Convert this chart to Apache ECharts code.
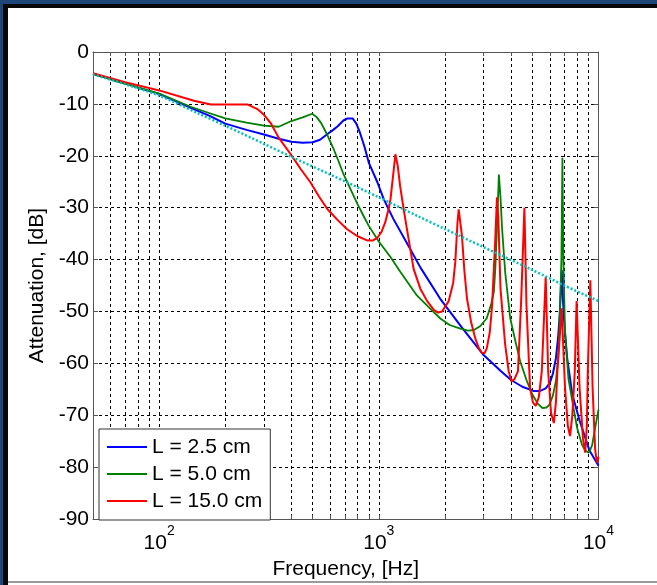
<!DOCTYPE html>
<html>
<head>
<meta charset="utf-8">
<script src="https://cdn.jsdelivr.net/npm/echarts@6/dist/echarts.min.js"></script>
<style>
html,body{margin:0;padding:0;background:#fff;}
#c{width:657px;height:585px;}
</style>
</head>
<body>
<div id="c"></div>
<script>
// ---- data ----
const seriesNames = ['L = 2.5 cm', 'L = 5.0 cm', 'L = 15.0 cm'];
const xTickLabelExponents = [2, 3, 4];
const xGridFreqs = [60,70,80,90,100,200,300,400,500,600,700,800,900,1000,2000,3000,4000,5000,6000,7000,8000,9000,10000];

const blueF = [50,70,100,140,170,200,250,300,350,400,450,500,540,580,620,650,690,720,760,790,820,860,900,985,1054,1166,1350,1545,1900,2400,3000,3300,3600,4000,4500,5060,5430,5750,6000,6200,6400,6550,6650,6720,6800,6880,6950,7200,7600,8200,9100,10000];
const blueDb = [-4.2,-6.1,-8.1,-10.8,-12.3,-13.8,-15.0,-15.9,-16.7,-17.3,-17.5,-17.4,-16.9,-15.9,-15.0,-14.3,-13.2,-12.8,-12.8,-13.8,-15.5,-18.2,-21.3,-25.1,-28.4,-32.2,-37.0,-41.5,-47.5,-53.2,-58.4,-60.0,-61.5,-63.2,-64.5,-65.3,-65.3,-64.8,-63.8,-62.0,-59.0,-55.0,-51.0,-47.0,-42.0,-47.0,-51.0,-59.0,-66.0,-71.0,-76.8,-79.7];

const greenF = [50,70,100,140,170,200,250,300,350,400,450,497,520,545,580,620,655,690,745,800,850,900,1000,1130,1250,1490,1700,1900,2100,2350,2550,2700,2900,3100,3250,3340,3390,3450,3520,3580,3640,3760,3965,4200,4400,4700,5000,5300,5560,5800,5970,6200,6400,6550,6640,6780,6850,6920,7040,7300,7650,8000,8400,8700,9050,9350,9600,10000];
const greenDb = [-4.2,-6.1,-8.0,-10.6,-11.8,-12.8,-13.6,-14.2,-14.4,-13.3,-12.6,-11.9,-12.5,-13.6,-15.8,-18.5,-21.0,-23.5,-26.5,-29.3,-31.5,-33.5,-36.5,-39.5,-42.3,-46.9,-49.3,-51.3,-52.6,-53.3,-53.7,-53.6,-52.8,-51.3,-48.5,-46.2,-41.8,-34.0,-23.6,-28.0,-34.0,-42.4,-51.3,-56.0,-59.6,-63.2,-66.0,-67.8,-68.6,-68.5,-68.0,-66.2,-63.4,-59.0,-53.3,-40.0,-20.4,-40.0,-54.0,-63.0,-68.0,-72.5,-75.6,-76.8,-77.2,-75.8,-73.0,-68.9];

const redF = [50,70,100,144,172,200,252,280,300,322,350,397,440,488,535,584,650,715,800,885,940,985,1030,1070,1100,1130,1160,1190,1220,1250,1300,1350,1440,1545,1660,1780,1860,1940,2080,2180,2230,2280,2310,2390,2450,2520,2630,2750,2850,2950,3030,3100,3200,3280,3390,3450,3500,3580,3760,3900,4020,4150,4300,4450,4600,4700,4880,5030,5180,5350,5520,5750,5900,6080,6260,6400,6500,6800,7040,7250,7420,7600,7800,7950,8200,8500,8700,8850,8940,9180,9400,9650,9840,10000];
const redDb = [-4.1,-5.8,-7.4,-9.4,-10.1,-10.1,-10.1,-11.0,-12.1,-13.7,-16.5,-19.7,-22.5,-25.1,-27.9,-30.3,-32.4,-34.1,-35.5,-36.3,-36.3,-35.8,-34.6,-32.8,-30.8,-28.4,-24.0,-19.7,-22.0,-25.8,-30.5,-34.7,-41.8,-45.6,-48.0,-49.7,-50.2,-50.0,-48.0,-44.5,-40.4,-33.0,-30.3,-35.4,-42.0,-47.5,-52.0,-55.2,-57.0,-58.0,-58.0,-57.1,-54.0,-48.8,-36.0,-28.0,-32.0,-45.6,-56.4,-61.5,-63.5,-63.0,-61.5,-47.5,-30.0,-48.8,-64.7,-67.5,-68.2,-66.5,-61.5,-43.3,-61.5,-69.5,-71.5,-67.5,-61.5,-49.4,-64.7,-72.0,-74.0,-70.0,-61.5,-48.0,-64.7,-74.5,-77.2,-72.0,-61.5,-44.0,-64.7,-76.5,-79.1,-78.0];

const cyanF = [50,70,100,150,200,300,400,600,1000,1500,2000,3000,5000,7000,10000];
const cyanDb = [-4.3,-6.2,-8.4,-11.8,-14.2,-17.7,-20.2,-23.6,-28.0,-31.6,-34.1,-37.6,-42.0,-45.0,-48.0];

const yMin = -90, yMax = 0, yStep = 10;
const fMin = 50, fMax = 10000;

// ---- build ----
const FONT = '"Liberation Sans", Arial, sans-serif';
const lg = Math.log10;
function pairs(F, D) { return F.map((f, i) => [lg(f), D[i]]); }
const xTicks = xGridFreqs.map(lg);

const chart = echarts.init(document.getElementById('c'), null, {renderer: 'canvas'});
const blueC = '#1f4678';
chart.setOption({
  animation: false,
  backgroundColor: '#ffffff',
  graphic: [
    {type: 'rect', shape: {x: 0, y: 0, width: 657, height: 4}, style: {fill: blueC}, silent: true},
    {type: 'rect', shape: {x: 0, y: 4, width: 657, height: 4}, style: {fill: '#080808'}, silent: true},
    {type: 'rect', shape: {x: 0, y: 0, width: 3, height: 585}, style: {fill: blueC}, silent: true},
    {type: 'rect', shape: {x: 3, y: 4, width: 5, height: 581}, style: {fill: '#080808'}, silent: true},
    {type: 'rect', shape: {x: 8, y: 581, width: 649, height: 2}, style: {fill: '#9a9a9a'}, silent: true}
  ],
  grid: {left: 93, top: 52, right: 58.5, bottom: 63, containLabel: false},
  legend: {
    data: seriesNames,
    orient: 'vertical',
    left: 99, top: 429,
    backgroundColor: '#fff',
    borderColor: '#333', borderWidth: 1,
    padding: [7, 8, 8, 8],
    itemGap: 5,
    itemWidth: 40, itemHeight: 2,
    icon: 'rect',
    textStyle: {fontFamily: FONT, fontSize: 21, color: '#000', lineHeight: 22},
    selectedMode: false
  },
  xAxis: [{
    type: 'value', min: lg(fMin), max: lg(fMax),
    name: 'Frequency, [Hz]', nameLocation: 'middle', nameGap: 33,
    nameTextStyle: {fontFamily: FONT, fontSize: 21, color: '#000'},
    axisLine: {show: true, onZero: false, lineStyle: {color: '#555', width: 1}},
    axisTick: {show: true, inside: true, length: 4, customValues: xTicks, lineStyle: {color: '#555'}},
    axisLabel: {
      customValues: xTickLabelExponents, margin: 5,
      formatter: v => '{b|10}{s|' + Math.round(v) + '}',
      rich: {
        b: {fontFamily: FONT, fontSize: 21, color: '#000', lineHeight: 30, verticalAlign: 'bottom'},
        s: {fontFamily: FONT, fontSize: 14, color: '#000', lineHeight: 16, verticalAlign: 'top'}
      }
    },
    splitLine: {show: true, lineStyle: {color: '#000', width: 1, type: [3, 3]}}
  }, {
    type: 'value', min: lg(fMin), max: lg(fMax), position: 'top',
    axisLine: {show: true, onZero: false, lineStyle: {color: '#555', width: 1}},
    axisTick: {show: true, inside: true, length: 4, customValues: xTicks, lineStyle: {color: '#555'}},
    axisLabel: {show: false}, splitLine: {show: false}
  }],
  yAxis: [{
    type: 'value', min: yMin, max: yMax, interval: yStep,
    name: 'Attenuation, [dB]', nameLocation: 'middle', nameGap: 40,
    nameTextStyle: {fontFamily: FONT, fontSize: 21, color: '#000'},
    axisLine: {show: true, onZero: false, lineStyle: {color: '#555', width: 1}},
    axisTick: {show: true, inside: true, length: 5, lineStyle: {color: '#555'}},
    axisLabel: {fontFamily: FONT, fontSize: 21, color: '#000', margin: 4},
    splitLine: {show: true, lineStyle: {color: '#000', width: 1, type: [3, 3]}}
  }, {
    type: 'value', min: yMin, max: yMax, interval: yStep, position: 'right',
    axisLine: {show: true, onZero: false, lineStyle: {color: '#555', width: 1}},
    axisTick: {show: true, inside: true, length: 5, lineStyle: {color: '#555'}},
    axisLabel: {show: false}, splitLine: {show: false}
  }],
  series: [
    {name: seriesNames[0], type: 'line', data: pairs(blueF, blueDb), showSymbol: false, symbol: 'none', color: '#0000ff', lineStyle: {color: '#0000ff', width: 2}, z: 3},
    {name: seriesNames[1], type: 'line', data: pairs(greenF, greenDb), showSymbol: false, symbol: 'none', color: '#008000', lineStyle: {color: '#008000', width: 1.8}, z: 4},
    {name: seriesNames[2], type: 'line', data: pairs(redF, redDb), showSymbol: false, symbol: 'none', color: '#ff0000', lineStyle: {color: '#ff0000', width: 2}, z: 5},
    {name: 'ref', type: 'line', data: pairs(cyanF, cyanDb), showSymbol: false, symbol: 'none', color: '#00bfbf', smooth: 0.3, lineStyle: {color: '#00bfbf', width: 2.5, type: [2, 2]}, z: 6}
  ]
});
</script>
</body>
</html>
